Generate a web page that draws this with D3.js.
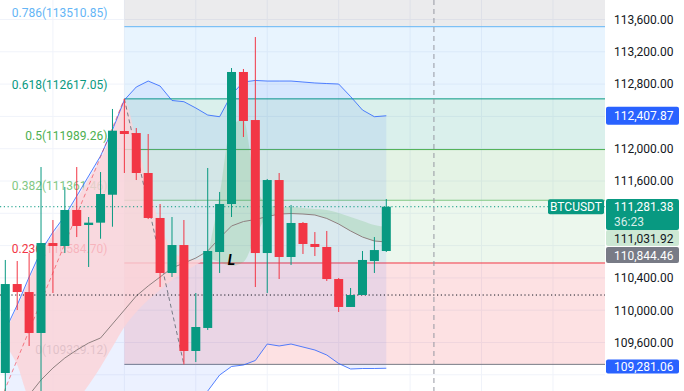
<!DOCTYPE html>
<html>
<head>
<meta charset="utf-8">
<script src="https://cdn.jsdelivr.net/npm/d3@7/dist/d3.min.js"></script>
<style>
  body { margin: 0; background: #fff; }
  text { font-family: Roboto, "Liberation Sans", sans-serif; }
</style>
</head>
<body>
<div id="chart"></div>
<script>
// candles
var opens  = [109222,110324,110225,109718,110832,110795,111241,111055,111084,111430,112219,112194,111699,111142,110461,110807,109495,109780,110721,111315,112950,112355,110708,111612,110659,111080,110820,110783,110386,110040,110188,110609,110733]
var highs  = [110622,110609,110708,111773,111117,111526,111773,111154,111711,112492,112617,112256,112182,111315,111154,111117,110213,111761,111464,112999,112987,113383,111625,111699,111303,111092,110968,110981,110399,110275,110733,110906,111377]
var lows   = [108950,110002,109557,108913,110213,110708,110906,110535,110885,111034,111699,111612,111129,110287,110411,109329,109358,109755,110461,111154,112145,110287,110213,110386,110560,110696,110671,110362,109978,110040,110188,110461,110721]
var closes = [110324,110225,109718,110832,110795,111241,111043,111084,111439,112223,112182,111699,111142,110461,110807,109495,109792,110733,111315,112950,112343,110708,111612,110659,111080,110820,110783,110386,110040,110188,110622,110745,111281.38]

// bollinger bands
var bbUpper = [109755,110064,110411,110733,110968,111167,111414,111662,111910,112232,112603,112764,112838,112776,112597,112582,112504,112417,112396,112670,112826,112845,112838,112838,112838,112826,112814,112807,112801,112646,112479,112396,112407.87]
var bbBasis = [108640,108764,108950,109136,109284,109408,109507,109594,109656,109829,110002,110176,110300,110411,110523,110584,110646,110733,110894,111043,111098,111123,111160,111191,111197,111191,111179,111136,111067,110981,110906,110857,110844.46]
var bbLower = [107526,107464,107488,107538,107600,107650,107600,107526,107402,107427,107402,107588,107761,108046,108454,108591,108789,108999,109197,109303,109321,109377,109581,109557,109581,109544,109507,109445,109340,109272,109278,109278,109281.06]

// cloud fill, bars 0-17 (red) and 17-32 (green)
var redTop   = [109730,110040,110374,110696,110931,111129,111377,111625,111872,112194,112591,112108,111550,111055,110745,110646,110622,110671]
var redBot   = [109569,109321,108913,108826,108826,108826,108888,109074,109297,109544,109792,109978,110126,110250,110374,110473,110560,110646]
var greenTop = [110671,111427,112293,112355,111550,111315,111278,111278,111266,111253,111241,111204,111154,111105,111055,111031.92]
var greenBot = [110646,110597,110547,110597,110894,111160,111191,111197,111191,111179,111136,111067,110981,110906,110857,110844.46]

// fibonacci retracement
var fibRatios = [0, 0.236, 0.382, 0.5, 0.618, 0.786, 1]
var fibPrices = [109329.12, 110584.70, 111361.46, 111989.26, 112617.05, 113510.85, 114649.40]
var fibColors = ['#787b86', '#f23645', '#81c784', '#4caf50', '#089981', '#64b5f6', '#787b86']
var fibStart = 10

// 111,200 / 110,800 / 109,200 sit under the price tags
var priceTicks = [109600, 110000, 110400, 111600, 112000, 112400, 112800, 113200, 113600]
var gridTicks = d3.range(109200, 113601, 400)
var gridBars = [4, 10, 16, 22, 28, 34, 40, 46]
var lastPrice = 111281.38
var markerPrice = 110188

var w = 684, h = 391, plotW = 605

var svg = d3.select('#chart').append('svg')
    .attr('width', w)
    .attr('height', h)

var x = d3.scaleLinear().domain([0, 32]).range([5.3, 386.3])
var y = d3.scaleLinear().domain([109600, 113600]).range([342.5, 19.5])
var fmt = d3.format(',.2f')

svg.append('defs').append('clipPath').attr('id', 'plot')
  .append('rect').attr('width', plotW).attr('height', h)

var g = svg.append('g').attr('clip-path', 'url(#plot)')

// grid
g.selectAll('.hgrid').data(gridTicks).enter().append('line')
    .attr('x1', 0).attr('x2', plotW)
    .attr('y1', function(d) {return y(d)}).attr('y2', function(d) {return y(d)})
    .attr('stroke', '#f0f3fa')
g.selectAll('.vgrid').data(gridBars).enter().append('line')
    .attr('x1', function(d) {return x(d)}).attr('x2', function(d) {return x(d)})
    .attr('y1', 0).attr('y2', h)
    .attr('stroke', '#f0f3fa')

// fib bands + lines
var fx = x(fibStart)
for (var k = 0; k < fibPrices.length - 1; k++) {
  g.append('rect')
      .attr('x', fx).attr('width', plotW - fx)
      .attr('y', y(fibPrices[k + 1]))
      .attr('height', y(fibPrices[k]) - y(fibPrices[k + 1]))
      .attr('fill', fibColors[k + 1])
      .attr('fill-opacity', 0.15)
}
fibPrices.slice(0, 6).forEach(function(p, k) {
  g.append('line')
      .attr('x1', fx).attr('x2', plotW)
      .attr('y1', y(p)).attr('y2', y(p))
      .attr('stroke', fibColors[k])
  g.append('text')
      .attr('x', fx - 17).attr('y', y(p) - 10)
      .attr('text-anchor', 'end')
      .attr('font-size', 12)
      .attr('fill', fibColors[k])
      .text(fibRatios[k] + '(' + p.toFixed(2) + ')')
})

// bollinger fill
var bars = d3.range(opens.length)
g.append('path')
    .attr('d', d3.area().x(function(i) {return x(i)})
      .y0(function(i) {return y(bbLower[i])})
      .y1(function(i) {return y(bbUpper[i])})(bars))
    .attr('fill', '#2962ff').attr('fill-opacity', 0.09)

// cloud
g.append('path')
    .attr('d', d3.area().curve(d3.curveMonotoneX).x(function(d, i) {return x(i)})
      .y0(function(d, i) {return y(redBot[i])})
      .y1(function(d) {return y(d)})(redTop))
    .attr('fill', '#fcd3d7').attr('fill-opacity', 0.8)
g.append('path')
    .attr('d', d3.area().curve(d3.curveMonotoneX).x(function(d, i) {return x(i + 17)})
      .y0(function(d, i) {return y(greenBot[i])})
      .y1(function(d) {return y(d)})(greenTop))
    .attr('fill', '#4caf50').attr('fill-opacity', 0.18)

var line = function(arr) {
  return d3.line().x(function(d, i) {return x(i)}).y(function(d) {return y(d)})(arr)
}
g.append('path').attr('d', line(bbUpper)).attr('fill', 'none').attr('stroke', '#2962ff').attr('stroke-opacity', 0.8)
g.append('path').attr('d', line(bbLower)).attr('fill', 'none').attr('stroke', '#2962ff').attr('stroke-opacity', 0.8)
g.append('path').attr('d', line(bbBasis)).attr('fill', 'none').attr('stroke', '#8f8080')

// trend lines
g.append('line')
    .attr('x1', x(-1)).attr('y1', y(108670))
    .attr('x2', x(10)).attr('y2', y(112617.05))
    .attr('stroke', '#f23645').attr('stroke-opacity', 0.6).attr('stroke-dasharray', '4,3')
g.append('line')
    .attr('x1', x(10)).attr('y1', y(112617.05))
    .attr('x2', x(15)).attr('y2', y(109329.12))
    .attr('stroke', '#787b86').attr('stroke-dasharray', '4,3')

// time marker
g.append('line')
    .attr('x1', x(36)).attr('x2', x(36))
    .attr('y1', 0).attr('y2', h)
    .attr('stroke', '#9598a1').attr('stroke-dasharray', '5,4')

// dotted price lines
g.append('line')
    .attr('x1', 0).attr('x2', plotW)
    .attr('y1', y(markerPrice)).attr('y2', y(markerPrice))
    .attr('stroke', '#131722').attr('stroke-dasharray', '1.2,2.6')
g.append('line')
    .attr('x1', 0).attr('x2', plotW)
    .attr('y1', y(lastPrice)).attr('y2', y(lastPrice))
    .attr('stroke', '#089981').attr('stroke-dasharray', '1.2,2.6')

// candles
var candle = g.selectAll('.candle').data(bars).enter().append('g')
    .attr('class', 'candle')
var col = function(i) {return closes[i] >= opens[i] ? '#089981' : '#f23645'}
candle.append('line')
    .attr('x1', function(i) {return x(i)}).attr('x2', function(i) {return x(i)})
    .attr('y1', function(i) {return y(highs[i])}).attr('y2', function(i) {return y(lows[i])})
    .attr('stroke', col)
candle.append('rect')
    .attr('x', function(i) {return x(i) - 4.5})
    .attr('width', 9)
    .attr('y', function(i) {return y(Math.max(opens[i], closes[i]))})
    .attr('height', function(i) {return Math.max(1.5, Math.abs(y(opens[i]) - y(closes[i])))})
    .attr('fill', col)

g.append('text')
    .attr('x', x(19)).attr('y', y(110622) + 5)
    .attr('text-anchor', 'middle')
    .attr('font-family', '"Liberation Serif", serif')
    .attr('font-style', 'italic').attr('font-weight', 'bold')
    .attr('font-size', 14)
    .text('L')

// symbol tag
g.append('rect').attr('x', 548).attr('y', y(lastPrice) - 7.5).attr('width', 56).attr('height', 15)
    .attr('rx', 2).attr('fill', '#089981')
g.append('text').attr('x', 576).attr('y', y(lastPrice) + 4.5)
    .attr('text-anchor', 'middle').attr('font-size', 12).attr('fill', '#fff')
    .text('BTCUSDT')

// price axis
var axis = svg.append('g')
    .attr('transform', 'translate(' + plotW + ',0)')
    .call(d3.axisRight(y).tickValues(priceTicks).tickSize(0).tickPadding(9).tickFormat(fmt))
axis.select('.domain').remove()
axis.selectAll('text').attr('font-size', 12).attr('fill', '#131722')
    .attr('font-family', 'Roboto, sans-serif')

var tags = [
  {v: 112407.87, cy: y(112407.87), h: 18, bg: '#2962ff', fg: '#fff'},
  {v: 111031.92, cy: 238, h: 16, bg: '#cde8d4', fg: '#131722'},
  {v: 110844.46, cy: 255, h: 16, bg: '#787b86', fg: '#fff'},
  {v: 109281.06, cy: 366.5, h: 14, bg: '#2962ff', fg: '#fff'}
]
tags.forEach(function(t) {
  svg.append('rect').attr('x', 606).attr('y', t.cy - t.h / 2).attr('width', 73).attr('height', t.h)
      .attr('rx', 2).attr('fill', t.bg)
  svg.append('text').attr('x', 614).attr('y', t.cy + 4.5)
      .attr('font-size', 12).attr('fill', t.fg).text(fmt(t.v))
})
svg.append('rect').attr('x', 606).attr('y', 199).attr('width', 73).attr('height', 31)
    .attr('rx', 2).attr('fill', '#089981')
svg.append('text').attr('x', 614).attr('y', 211).attr('font-size', 12).attr('fill', '#fff').text(fmt(lastPrice))
svg.append('text').attr('x', 614).attr('y', 225.5).attr('font-size', 12).attr('fill', '#fff')
    .attr('fill-opacity', 0.85).text('36:23')
</script>
</body>
</html>
